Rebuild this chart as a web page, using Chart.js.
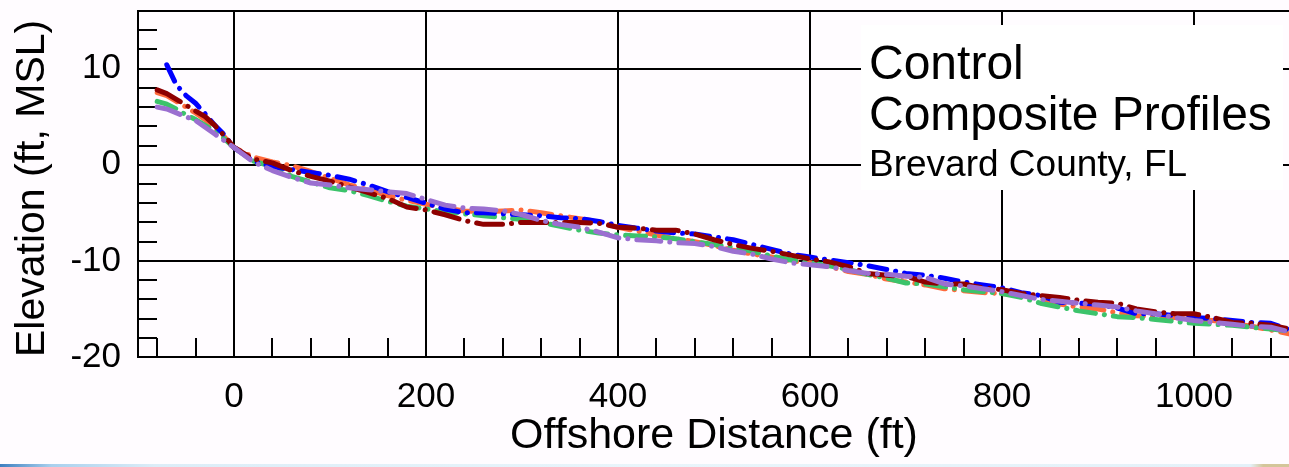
<!DOCTYPE html>
<html>
<head>
<meta charset="utf-8">
<title>Control Composite Profiles</title>
<script src="https://cdn.jsdelivr.net/npm/chart.js@4.4.0/dist/chart.umd.min.js"></script>
<style>
  html, body { margin: 0; padding: 0; overflow: hidden; background: #fffcff; }
  #wrap { position: relative; width: 1290px; height: 467px; }
  #strip {
    position: absolute; left: 0; top: 464px; width: 1289px; height: 3px;
    background: linear-gradient(to right, #3d7fc0 0%, #a9d0ee 4%, #dcedf8 12%, #e9f5fb 50%, #e4f1f9 97%, #d4c69a 98%, #d4c69a 100%);
  }
</style>
</head>
<body>
<div id="wrap"><canvas id="profileChart"></canvas></div>
<div id="strip"></div>
<script>
// offshore distance (ft) shared by all profiles
const distance = [-80, -70, -60, -50, -40, -30, -20, -10, 0,
  20, 40, 60, 80, 100, 120, 140, 160, 180, 200,
  220, 240, 260, 280, 300, 320, 340, 360, 380, 400,
  420, 440, 460, 480, 500, 520, 540, 560, 580, 600,
  620, 640, 660, 680, 700, 720, 740, 760, 780, 800,
  820, 840, 860, 880, 900, 920, 940, 960, 980, 1000,
  1020, 1040, 1060, 1080, 1100];

// elevation (ft, MSL) of each composite profile
const blueProfile = [null, 10.4, 8.3, 7.2, 6.4, 5.3, 4.1, 3.1, 1.8,
  0.4, -0.2, -0.5, -0.8, -1.1, -1.5, -2.1, -2.8, -3.4, -4.0,
  -4.6, -5.0, -5.0, -5.1, -5.2, -5.3, -5.5, -5.6, -5.9, -6.3,
  -6.6, -6.9, -7.1, -7.2, -7.5, -7.8, -8.3, -8.8, -9.3, -9.6,
  -9.9, -10.2, -10.5, -10.9, -11.3, -11.5, -11.8, -12.2, -12.5, -12.8,
  -13.3, -13.6, -14.3, -14.4, -14.5, -14.9, -15.5, -15.5, -15.7, -15.9,
  -16.0, -16.2, -16.4, -16.5, -17.2];
const orangeProfile = [7.5, 7.2, 6.6, 6.0, 5.4, 4.7, 3.8, 2.9, 1.8,
  0.8, 0.3, -0.1, -0.7, -1.4, -2.1, -2.6, -3.2, -3.7, -4.1,
  -4.5, -4.8, -4.9, -4.8, -4.7, -5.0, -5.3, -5.6, -5.9, -6.5,
  -6.9, -7.3, -7.7, -8.0, -8.4, -8.9, -9.3, -9.6, -10.0, -10.2,
  -10.6, -11.1, -11.4, -11.9, -12.2, -12.5, -12.9, -13.1, -13.3, -13.4,
  -13.5, -13.9, -14.5, -14.8, -15.0, -15.4, -15.7, -15.8, -15.9, -16.1,
  -16.2, -16.5, -16.8, -17.2, -17.6];
const greenProfile = [6.6, 6.3, 5.8, 5.2, 4.7, 4.1, 3.5, 2.7, 1.8,
  0.4, -0.2, -1.2, -1.8, -2.4, -2.7, -3.2, -3.8, -4.3, -4.6,
  -4.9, -5.1, -5.3, -5.5, -5.7, -6.0, -6.4, -6.8, -7.1, -7.3,
  -7.4, -7.5, -7.7, -8.0, -8.3, -8.6, -9.0, -9.5, -9.9, -10.2,
  -10.5, -10.9, -11.4, -11.8, -12.3, -12.4, -12.7, -13.0, -13.2, -13.4,
  -13.8, -14.4, -14.8, -15.2, -15.5, -15.8, -15.9, -16.1, -16.3, -16.5,
  -16.6, -16.7, -16.9, -17.1, -17.3];
const redProfile = [7.8, 7.4, 6.8, 6.2, 5.6, 5.0, 4.1, 3.0, 1.8,
  0.6, 0.2, -0.6, -1.2, -1.7, -2.3, -2.9, -3.5, -4.4, -4.7,
  -5.2, -5.8, -6.2, -6.2, -6.0, -6.0, -6.0, -6.0, -6.1, -6.5,
  -6.6, -6.8, -6.8, -7.2, -7.8, -8.3, -8.7, -9.0, -9.4, -9.8,
  -10.1, -10.6, -11.3, -11.5, -11.6, -12.2, -12.4, -12.4, -12.8, -13.0,
  -13.4, -13.6, -13.8, -14.1, -14.3, -14.4, -15.0, -15.3, -15.5, -15.5,
  -15.9, -16.4, -16.5, -16.7, -17.1];
const purpleProfile = [6.0, 5.8, 5.4, 5.0, 4.6, 3.9, 3.2, 2.5, 1.8,
  0.3, -0.6, -1.3, -1.9, -2.1, -2.4, -2.6, -2.8, -3.0, -3.6,
  -4.2, -4.5, -4.6, -4.8, -5.2, -5.8, -6.2, -6.5, -7.0, -7.6,
  -7.8, -7.9, -8.1, -8.2, -8.5, -9.0, -9.3, -9.8, -10.2, -10.4,
  -10.6, -11.0, -11.3, -11.4, -11.6, -11.7, -12.4, -12.6, -12.9, -13.2,
  -13.6, -14.0, -14.2, -14.4, -14.6, -14.8, -15.2, -15.5, -15.9, -16.2,
  -16.4, -16.6, -16.8, -16.9, -17.4];

const xTickValues = [0, 200, 400, 600, 800, 1000];
const yTickValues = [-20, -10, 0, 10];
const boxLines = ['Control', 'Composite Profiles', 'Brevard County, FL'];

const FONT = '"Liberation Sans", Arial, sans-serif';

function profile(values, color, dash) {
  return {
    data: distance.map((d, i) => ({ x: d, y: values[i] })),
    borderColor: color,
    borderWidth: 5,
    borderDash: dash,
    borderCapStyle: 'round',
    borderJoinStyle: 'round',
    pointRadius: 0,
    tension: 0,
    spanGaps: false
  };
}

// minor ticks, top edge and the title box
const framePlugin = {
  id: 'frame',
  beforeDatasetsDraw(chart) {
    const { ctx, chartArea, scales: { x, y } } = chart;
    ctx.save();
    ctx.strokeStyle = '#000';
    ctx.lineWidth = 2;
    ctx.beginPath();
    ctx.moveTo(chartArea.left, chartArea.top);
    ctx.lineTo(chartArea.right, chartArea.top);
    for (let v = -80; v < 1100; v += 40) {
      const px = Math.round(x.getPixelForValue(v));
      ctx.moveTo(px, chartArea.bottom);
      ctx.lineTo(px, chartArea.bottom - 19);
    }
    for (let v = -18; v < 16; v += 2) {
      const py = Math.round(y.getPixelForValue(v));
      ctx.moveTo(chartArea.left, py);
      ctx.lineTo(chartArea.left + 19, py);
    }
    ctx.stroke();
    ctx.restore();
  },
  afterDatasetsDraw(chart) {
    const { ctx } = chart;
    ctx.save();
    ctx.fillStyle = '#fff';
    ctx.fillRect(861, 25, 422, 165);
    ctx.fillStyle = '#000';
    ctx.textBaseline = 'alphabetic';
    ctx.textAlign = 'left';
    ctx.font = '48px ' + FONT;
    ctx.fillText(boxLines[0], 869, 79);
    ctx.fillText(boxLines[1], 869, 130);
    ctx.font = '37px ' + FONT;
    ctx.fillText(boxLines[2], 869, 176);
    ctx.restore();
  }
};

const ctx = document.getElementById('profileChart').getContext('2d');
const profileChart = new Chart(ctx, {
  type: 'line',
  data: {
    datasets: [
      profile(purpleProfile, '#9b6fd0', [24, 9, 0.1, 9]),
      profile(redProfile, '#8e0000', [26, 9, 0.1, 9]),
      profile(blueProfile, '#0000ff', [18, 9, 0.1, 9]),
      profile(greenProfile, '#3cc36b', [20, 9, 0.1, 9]),
      profile(orangeProfile, '#ff6a3c', [22, 9, 0.1, 9])
    ]
  },
  options: {
    responsive: true,
    maintainAspectRatio: false,
    animation: false,
    layout: { padding: { top: 11, right: 0, bottom: 0, left: 0 } },
    plugins: {
      legend: { display: false },
      tooltip: { enabled: false }
    },
    scales: {
      x: {
        type: 'linear',
        min: -100,
        max: 1100,
        afterBuildTicks: (scale) => { scale.ticks = xTickValues.map(v => ({ value: v })); },
        afterFit: (scale) => { scale.height = 110; scale.paddingLeft = 0; scale.paddingRight = 0; },
        grid: { color: '#000', lineWidth: 2, drawTicks: false },
        border: { color: '#000', width: 2 },
        ticks: {
          color: '#000', padding: 19, maxRotation: 0,
          font: { family: FONT, size: 35 },
          callback: (v) => String(v)
        },
        title: {
          display: true,
          text: 'Offshore Distance (ft)',
          color: '#000',
          padding: { top: 0, bottom: 5 },
          font: { family: FONT, size: 43 }
        }
      },
      y: {
        min: -20,
        max: 16,
        afterBuildTicks: (scale) => { scale.ticks = yTickValues.map(v => ({ value: v })); },
        afterFit: (scale) => { scale.width = 138; scale.paddingTop = 0; scale.paddingBottom = 0; },
        grid: { color: '#000', lineWidth: 2, drawTicks: false },
        border: { color: '#000', width: 2 },
        ticks: {
          color: '#000', padding: 17,
          font: { family: FONT, size: 35 },
          callback: (v) => String(v)
        },
        title: {
          display: true,
          text: 'Elevation (ft, MSL)',
          align: 'start',
          color: '#000',
          padding: { top: 8, bottom: 0 },
          font: { family: FONT, size: 41 }
        }
      }
    }
  },
  plugins: [framePlugin]
});
</script>
</body>
</html>
